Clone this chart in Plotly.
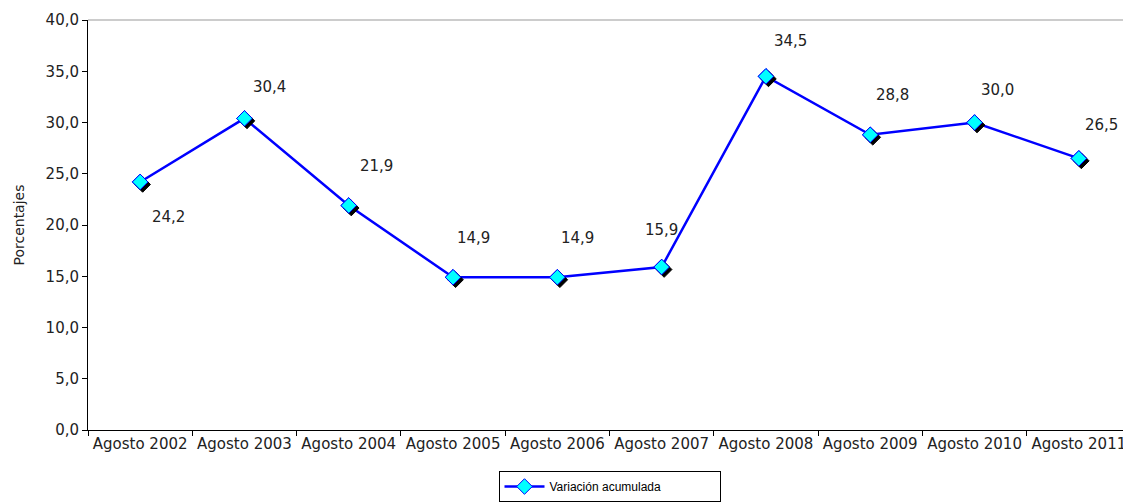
import plotly.graph_objects as go

# data
MESES = ["Agosto 2002", "Agosto 2003", "Agosto 2004", "Agosto 2005", "Agosto 2006",
         "Agosto 2007", "Agosto 2008", "Agosto 2009", "Agosto 2010", "Agosto 2011"]
VARIACION = [24.2, 30.4, 21.9, 14.9, 14.9, 15.9, 34.5, 28.8, 30.0, 26.5]
SERIE = "Variación acumulada"

# pixel offsets of each data label from its marker (dx right, dy up)
LABEL_OFFSETS = [(28, -35), (25, 31), (28, 40), (20, 39), (20, 39),
                 (0, 37), (25, 35), (22, 40), (23, 33), (23, 33)]

COLORS = {
    "line": "#0000FF",
    "fill": "#00FFFF",
    "shadow": "#000000",
    "text": "#222222",
    "axis": "#000000",
    "border": "#999999",
}

FONT = "DejaVu Sans, Verdana, sans-serif"
X_RANGE = [-0.5, 9.5]
Y_RANGE = [0, 40]
# shadow shift: ~2.5 px right / down
SHIFT_X = 2.5 / 104.3
SHIFT_Y = 2.5 / 10.25

fig = go.Figure()

fig.add_trace(go.Scatter(
    x=MESES, y=VARIACION,
    mode="lines+markers",
    name=SERIE,
    line=dict(color=COLORS["line"], width=2.5),
    marker=dict(symbol="diamond", size=12, color=COLORS["fill"],
                line=dict(color=COLORS["line"], width=1)),
    xaxis="x", yaxis="y",
))
fig.add_trace(go.Scatter(
    x=MESES, y=VARIACION,
    mode="markers",
    showlegend=False,
    marker=dict(symbol="diamond", size=12, color=COLORS["shadow"],
                line=dict(color=COLORS["shadow"], width=1)),
    xaxis="x2", yaxis="y2",
    hoverinfo="skip",
))
fig.add_trace(go.Scatter(
    x=MESES, y=VARIACION,
    mode="markers",
    showlegend=False,
    marker=dict(symbol="diamond", size=12, color=COLORS["fill"],
                line=dict(color=COLORS["line"], width=1)),
    xaxis="x3", yaxis="y3",
))

for mes, val, (dx, dy) in zip(MESES, VARIACION, LABEL_OFFSETS):
    fig.add_annotation(
        x=mes, y=val, xref="x", yref="y",
        text=f"{val:.1f}".replace(".", ","),
        showarrow=False, xshift=dx, yshift=dy,
        font=dict(family=FONT, size=15, color=COLORS["text"]),
    )

# top border of the plot area
fig.add_shape(type="line", xref="paper", yref="paper", x0=0, x1=1, y0=1, y1=1,
              line=dict(color=COLORS["border"], width=1))

hidden_x = dict(type="category", categoryarray=MESES, visible=False,
                overlaying="x", showgrid=False)
hidden_y = dict(visible=False, overlaying="y", showgrid=False)

# the page body adds an 8px margin, so the figure is shrunk/trimmed by 8
fig.update_layout(
    width=1123, height=494,
    paper_bgcolor="white", plot_bgcolor="white",
    margin=dict(l=80, r=0, t=12, b=72),
    separators=",.",
    font=dict(family=FONT, size=15, color=COLORS["text"]),
    xaxis=dict(
        type="category", categoryarray=MESES, range=X_RANGE,
        showline=True, linecolor=COLORS["axis"], linewidth=1,
        ticks="outside", tickson="boundaries", ticklen=5, tickcolor=COLORS["axis"],
        showgrid=False, zeroline=False, automargin=False,
        tickfont=dict(family=FONT, size=15, color=COLORS["text"]),
    ),
    yaxis=dict(
        range=Y_RANGE, dtick=5, tickformat=".1f",
        showline=True, linecolor=COLORS["axis"], linewidth=1,
        ticks="outside", ticklen=5, tickcolor=COLORS["axis"],
        showgrid=False, zeroline=False, automargin=False,
        tickfont=dict(family=FONT, size=15, color=COLORS["text"]),
        title=dict(text="Porcentajes", standoff=17,
                   font=dict(family=FONT, size=14, color=COLORS["text"])),
    ),
    xaxis2=dict(hidden_x, range=[X_RANGE[0] - SHIFT_X, X_RANGE[1] - SHIFT_X]),
    yaxis2=dict(hidden_y, range=[Y_RANGE[0] + SHIFT_Y, Y_RANGE[1] + SHIFT_Y]),
    xaxis3=dict(hidden_x, range=X_RANGE),
    yaxis3=dict(hidden_y, range=Y_RANGE),
    showlegend=True,
    legend=dict(
        orientation="h", x=0.5, xanchor="center",
        yref="container", y=-0.012, yanchor="bottom",
        bordercolor=COLORS["axis"], borderwidth=1,
        itemwidth=40, entrywidth=165,
        font=dict(family="Liberation Sans, Arial, sans-serif", size=12, color="#000000"),
    ),
)

fig.write_html("out.html")
